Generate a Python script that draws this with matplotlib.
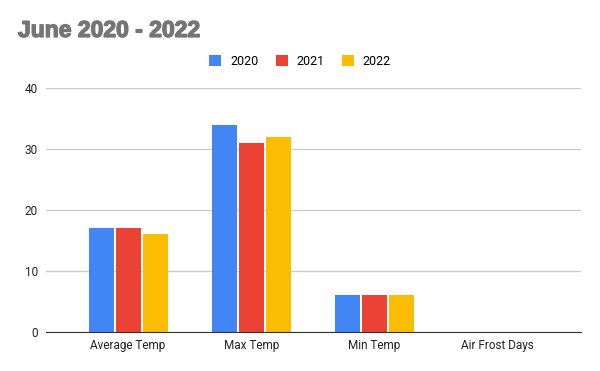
import matplotlib.pyplot as plt
import matplotlib.patheffects as pe
import numpy as np

categories = ["Average Temp", "Max Temp", "Min Temp", "Air Frost Days"]
years = ["2020", "2021", "2022"]
vals_2020 = [17, 34, 6, 0]
vals_2021 = [17, 31, 6, 0]
vals_2022 = [16, 32, 6, 0]
series = [vals_2020, vals_2021, vals_2022]
colors = ["#4285F4", "#EA4335", "#FBBC04"]

plt.rcParams["font.family"] = ["Roboto", "DejaVu Sans"]

fig = plt.figure(figsize=(6, 3.71), dpi=100)
ax = fig.add_axes([0.0767, 0.105, 0.8917, 0.6577])

x = np.arange(len(categories))
slot = 0.219
width = 0.203
for i, (yr, vals, c) in enumerate(zip(years, series, colors)):
    ax.bar(x + (i - 1) * slot, vals, width, color=c, label=yr, zorder=3)

ax.set_xlim(-0.666, 3.677)
ax.set_ylim(0, 40)
ax.set_yticks([0, 10, 20, 30, 40])
ax.set_xticks(x)
ax.set_xticklabels(categories)
ax.grid(axis="y", color="#cccccc", linewidth=1, zorder=0)
for s in ["top", "right", "left"]:
    ax.spines[s].set_visible(False)
ax.spines["bottom"].set_color("#333333")
ax.spines["bottom"].set_zorder(4)
ax.tick_params(axis="both", length=0, labelsize=8.5, colors="#222222")
ax.tick_params(axis="x", pad=5)
ax.tick_params(axis="y", pad=6)

fig.text(0.03, 0.918, "June 2020 - 2022", fontsize=16.5, fontweight="bold",
         family=["Liberation Sans", "DejaVu Sans"], color="#757575", va="center",
         path_effects=[pe.withStroke(linewidth=1.0, foreground="#757575")])
fig.legend(loc="center", bbox_to_anchor=(0.5, 0.834), ncol=3, frameon=False,
           fontsize=9, handlelength=0.96, handleheight=0.96, columnspacing=1.36,
           handletextpad=0.72)

fig.savefig("out.png", dpi=100)
